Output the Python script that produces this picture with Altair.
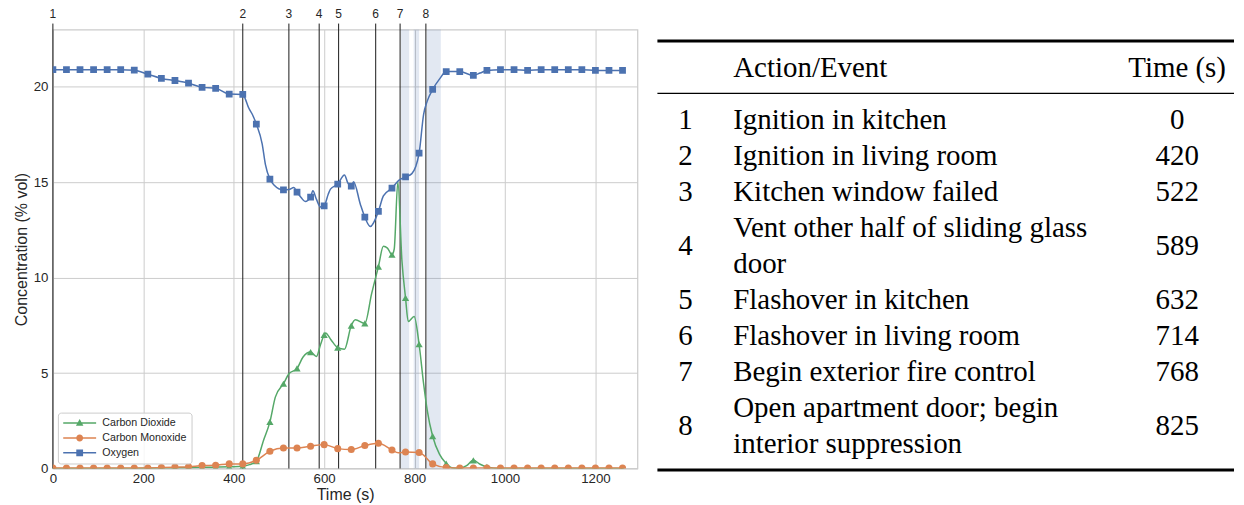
import altair as alt
import pandas as pd

# ---------------- data ----------------
series_names = ["Carbon Dioxide", "Carbon Monoxide", "Oxygen"]
series_colors = ["#55a868", "#dd8452", "#4c72b0"]
marker_shapes = ["triangle-up", "circle", "square"]

marker_t = [0, 30, 60, 90, 120, 150, 180, 210, 240, 270, 300, 330, 360, 390, 420,
            450, 480, 510, 540, 570, 600, 630, 660, 690, 720, 750, 780, 810, 840,
            870, 900, 930, 960, 990, 1020, 1050, 1080, 1110, 1140, 1170, 1200, 1230, 1260]

o2_marker = [20.9, 20.9, 20.9, 20.9, 20.9, 20.9, 20.87, 20.66, 20.44, 20.33, 20.19, 19.97, 19.92, 19.62, 19.6,
             18.05, 15.16, 14.6, 14.48, 14.22, 13.76, 14.9, 14.79, 13.17, 13.47, 14.69, 15.28, 16.52, 19.86,
             20.8, 20.8, 20.6, 20.86, 20.9, 20.9, 20.86, 20.9, 20.9, 20.9, 20.9, 20.86, 20.86, 20.86]
co2_marker = [0.0, 0.0, 0.0, 0.0, 0.0, 0.0, 0.0, 0.01, 0.02, 0.03, 0.04, 0.06, 0.07, 0.09, 0.12,
              0.38, 2.44, 4.44, 5.24, 6.1, 7.0, 6.33, 7.49, 7.6, 10.58, 11.2, 8.94, 6.51, 1.69,
              0.26, 0.0, 0.43, 0.08, 0.0, 0.0, 0.0, 0.0, 0.0, 0.0, 0.0, 0.0, 0.0, 0.0]
co_marker = [0.02, 0.02, 0.02, 0.02, 0.02, 0.02, 0.02, 0.03, 0.05, 0.07, 0.09, 0.15, 0.17, 0.24, 0.24,
             0.43, 0.9, 1.07, 1.07, 1.17, 1.25, 1.04, 0.99, 1.2, 1.32, 0.97, 0.86, 0.84, 0.24,
             0.05, 0.02, 0.03, 0.02, 0.02, 0.02, 0.02, 0.02, 0.02, 0.02, 0.02, 0.02, 0.02, 0.02]

# intermediate samples of the continuous traces (between markers)
o2_extra_t = [426, 433, 441, 463, 470, 489, 522, 533, 549, 558, 575, 583, 592, 609, 614,
              645, 652, 665, 680, 702, 731, 765, 794, 820, 828, 855, 945]
o2_extra_v = [19.34, 18.9, 18.56, 17.0, 15.94, 14.86, 14.62, 14.72, 14.2, 13.99, 14.55, 14.1, 13.7, 14.37, 14.64,
              15.38, 14.98, 15.03, 13.85, 12.68, 14.29, 15.1, 15.45, 18.56, 19.25, 20.4, 20.72]
co2_extra_t = [435, 466, 492, 522, 553, 583, 592, 603, 615, 645, 669, 705, 731, 740, 755, 763, 772,
               786, 799, 820, 828, 855, 885, 915, 945]
co2_extra_v = [0.2, 1.48, 3.74, 4.96, 5.83, 5.87, 6.5, 7.1, 6.75, 6.25, 7.8, 9.16, 11.64, 11.55, 11.5, 15.03, 10.9,
               7.7, 7.96, 4.44, 3.05, 0.75, 0.02, 0.15, 0.22]
co_extra_t = [764]
co_extra_v = [0.82]

event_nums = [1, 2, 3, 4, 5, 6, 7, 8]
event_times = [0, 420, 522, 589, 632, 714, 768, 825]
event_desc = ["Ignition in kitchen",
              "Ignition in living room",
              "Kitchen window failed",
              "Vent other half of sliding glass\ndoor",
              "Flashover in kitchen",
              "Flashover in living room",
              "Begin exterior fire control",
              "Open apartment door; begin\ninterior suppression"]

band_start = [770, 798, 827]
band_end = [788, 810, 858]

# ---------------- frames ----------------
marker_vals = [co2_marker, co_marker, o2_marker]
extra_t = [co2_extra_t, co_extra_t, o2_extra_t]
extra_v = [co2_extra_v, co_extra_v, o2_extra_v]

mk_rows, ln_rows = [], []
for name, mv, et, ev in zip(series_names, marker_vals, extra_t, extra_v):
    for t, v in zip(marker_t, mv):
        mk_rows.append({"series": name, "t": t, "v": v})
        ln_rows.append({"series": name, "t": t, "v": v})
    for t, v in zip(et, ev):
        ln_rows.append({"series": name, "t": t, "v": v})
mk_df = pd.DataFrame(mk_rows)
ln_df = pd.DataFrame(ln_rows).sort_values(["series", "t"])

ev_df = pd.DataFrame({"num": [str(n) for n in event_nums], "time": event_times})
band_df = pd.DataFrame({"start": band_start, "end": band_end})

# ---------------- left chart ----------------
W, H = 586, 440
TXT = "#262626"
SANS = "Liberation Sans"
xsc = alt.Scale(domain=[0, 1293], nice=False, zero=False)
ysc = alt.Scale(domain=[0, 23], nice=False)
xaxis = alt.Axis(values=[0, 200, 400, 600, 800, 1000, 1200], format="d", ticks=False, tickSize=0, domain=False,
                 labelFlush=False,
                 labelFontSize=13.3, labelColor=TXT, labelPadding=3, labelFont=SANS,
                 titleFontSize=16, titleFontWeight="normal", titleColor=TXT, titleFont=SANS,
                 titlePadding=2, gridColor="#cccccc", gridWidth=1)
yaxis = alt.Axis(values=[0, 5, 10, 15, 20], ticks=False, tickSize=0, domain=False,
                 labelFontSize=13.3, labelColor=TXT, labelPadding=5, labelFont=SANS,
                 titleFontSize=16, titleFontWeight="normal", titleColor=TXT, titleFont=SANS,
                 titlePadding=4, gridColor="#cccccc", gridWidth=1)


def X(f):
    return alt.X(f"{f}:Q", scale=xsc, axis=xaxis, title="Time (s)")


def Y(f):
    return alt.Y(f"{f}:Q", scale=ysc, axis=yaxis, title="Concentration (% vol)")


bands = alt.Chart(band_df).mark_rect(color="#4c72b0", opacity=0.16).encode(
    x=X("start"), x2="end", y=alt.value(0), y2=alt.value(H))

ev_rules = alt.Chart(ev_df).mark_rule(color="#1a1a1a", strokeWidth=1).encode(
    x=X("time"), y=alt.value(-6), y2=alt.value(H))

ev_text = alt.Chart(ev_df).mark_text(font=SANS, fontSize=12, color=TXT, baseline="middle").encode(
    x=X("time"), y=alt.value(-16), text="num:N")

layers = [bands, ev_rules, ev_text]
sizes = [52, 50, 46]
for name, col, shp, sz in zip(series_names, series_colors, marker_shapes, sizes):
    layers.append(
        alt.Chart(ln_df).transform_filter(alt.datum.series == name)
        .mark_line(color=col, strokeWidth=1.5, interpolate="monotone", clip=True)
        .encode(x=X("t"), y=Y("v")))
    layers.append(
        alt.Chart(mk_df).transform_filter(alt.datum.series == name)
        .mark_point(shape=shp, filled=True, size=sz, color=col, opacity=1, clip=True)
        .encode(x=X("t"), y=Y("v")))

# legend: line segment + marker glyphs
seg = "M-3.3,-0.15H3.3V0.15H-3.3Z "
legend_paths = [seg + "M0,-0.8L0.75,0.55H-0.75Z",
                seg + "M0.7,0A0.7,0.7,0,1,1,-0.7,0A0.7,0.7,0,1,1,0.7,0Z",
                seg + "M-0.68,-0.68H0.68V0.68H-0.68Z"]
leg = alt.Legend(title=None, orient="bottom-left", offset=5, symbolSize=100, symbolOffset=11.5,
                 labelOffset=17.3, labelFontSize=10.7, labelFont=SANS, labelColor=TXT,
                 symbolOpacity=1, symbolStrokeWidth=0, padding=5, rowPadding=3,
                 strokeColor="#cccccc", fillColor="rgba(255,255,255,0.8)", cornerRadius=3)
legend_layer = alt.Chart(mk_df).mark_point(filled=True, opacity=0).encode(
    x=X("t"), y=Y("v"),
    color=alt.Color("series:N", scale=alt.Scale(domain=series_names, range=series_colors), legend=leg),
    shape=alt.Shape("series:N", scale=alt.Scale(domain=series_names, range=legend_paths), legend=leg))
layers.append(legend_layer)

left = alt.layer(*layers).properties(
    width=W, height=H, view=alt.ViewBackground(stroke="#cccccc", strokeWidth=1.25))

# ---------------- table ----------------
TW, TH = 578, 470
SERIF = "Liberation Serif"
FS = 29
line_recs, row_recs = [], []
slot = 1
for n, d, tm in zip(event_nums, event_desc, event_times):
    parts = d.split("\n")
    for i, p in enumerate(parts):
        line_recs.append({"k": slot + i, "text": p})
    row_recs.append({"k": slot + (len(parts) - 1) / 2, "num": str(n), "time": str(tm)})
    slot += len(parts)
line_df = pd.DataFrame(line_recs)
row_df = pd.DataFrame(row_recs)

# table origin sits level with the plot's top edge
Y0, PITCH, FIRST = 28, 36.1, 118.5
k_lo = 1 + (Y0 - FIRST) / PITCH
k_hi = 1 + (Y0 + TH - FIRST) / PITCH
tys = alt.Scale(domain=[k_lo, k_hi], reverse=True, nice=False, zero=False)
head_k = 1 + (66.5 - FIRST) / PITCH
rule_df = pd.DataFrame({"k": [1 + (39.5 - FIRST) / PITCH, 1 + (92 - FIRST) / PITCH, 1 + (469.5 - FIRST) / PITCH],
                        "w": [3, 1.4, 3]})
head_df = pd.DataFrame({"k": [head_k, head_k], "text": ["Action/Event", "Time (s)"], "col": ["desc", "time"]})

X_NUM, X_DESC, X_TIME = 28, 76, 521


def TY(f):
    return alt.Y(f"{f}:Q", scale=tys, axis=None)


t_rules = alt.Chart(rule_df).mark_rule(color="black").encode(
    y=TY("k"), x=alt.value(0), x2=alt.value(TW), strokeWidth=alt.StrokeWidth("w:Q", scale=None))
txt = dict(font=SERIF, fontSize=FS, color="black", baseline="middle")
t_head_desc = alt.Chart(head_df).transform_filter(alt.datum.col == "desc").mark_text(align="left", **txt).encode(
    y=TY("k"), x=alt.value(X_DESC), text="text:N")
t_head_time = alt.Chart(head_df).transform_filter(alt.datum.col == "time").mark_text(align="center", **txt).encode(
    y=TY("k"), x=alt.value(X_TIME), text="text:N")
t_num = alt.Chart(row_df).mark_text(align="center", **txt).encode(y=TY("k"), x=alt.value(X_NUM), text="num:N")
t_desc = alt.Chart(line_df).mark_text(align="left", **txt).encode(y=TY("k"), x=alt.value(X_DESC), text="text:N")
t_time = alt.Chart(row_df).mark_text(align="center", **txt).encode(y=TY("k"), x=alt.value(X_TIME), text="time:N")

table = alt.layer(t_rules, t_head_desc, t_head_time, t_num, t_desc, t_time).properties(
    width=TW, height=TH, view=alt.ViewBackground(stroke=None))

chart = alt.hconcat(left, table, spacing=17).resolve_scale(
    color="independent", shape="independent", strokeWidth="independent"
).configure(
    padding={"left": 4, "top": -2, "right": 0, "bottom": 0}
).configure_view(stroke=None)

chart.save("out.html", embed_options={"renderer": "svg", "actions": False})
